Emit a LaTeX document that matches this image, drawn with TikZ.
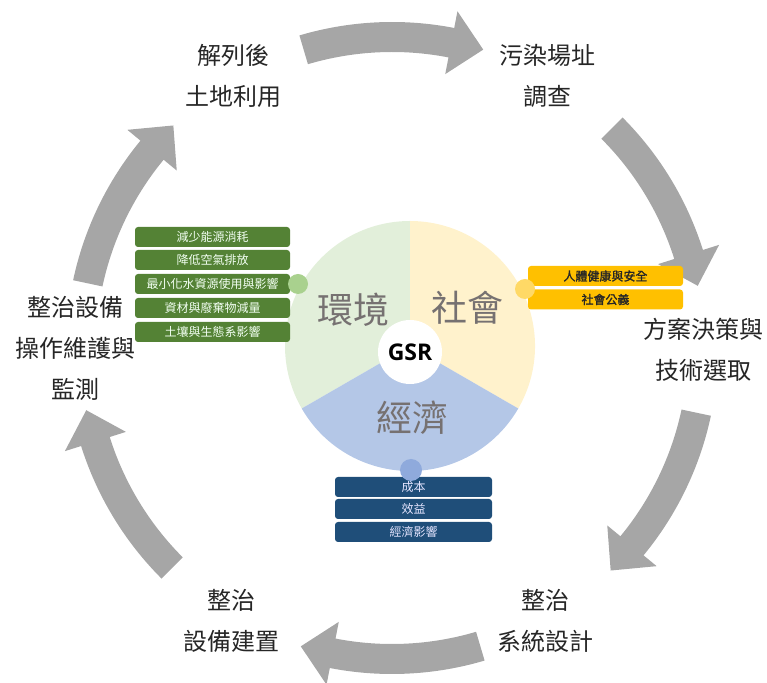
\documentclass[tikz,border=0pt]{standalone}
\usepackage{fontspec}
\setmainfont{Noto Sans CJK TC}[AutoFakeBold=1.5]
\newfontfamily\gsrfont{Open Sans}
\definecolor{arrowgray}{HTML}{A6A6A6}
\definecolor{envgreen}{HTML}{E2EFDA}
\definecolor{socyellow}{HTML}{FFF2CC}
\definecolor{ecoblue}{HTML}{B4C7E7}
\definecolor{wordgray}{HTML}{767171}
\definecolor{boxgreen}{HTML}{548235}
\definecolor{dotgreen}{HTML}{A9D18E}
\definecolor{boxyellow}{HTML}{FFC000}
\definecolor{dotyellow}{HTML}{FFD966}
\definecolor{boxblue}{HTML}{1F4E79}
\definecolor{dotblue}{HTML}{8FAADC}
\tikzset{
  cyclelabel/.style={align=center, inner sep=0pt, text=black!85, font=\fontsize{24}{41}\selectfont},
  bigword/.style={inner sep=0pt, text=wordgray, font=\fontsize{36}{40}\selectfont},
  itembox/.style={rounded corners=3pt, minimum width=155pt, minimum height=20pt, inner sep=0pt, font=\fontsize{12}{14}\selectfont},
  gbox/.style={itembox, fill=boxgreen, text=white!95!green},
  ybox/.style={itembox, fill=boxyellow, text=black!85, font=\fontsize{12}{14}\selectfont\bfseries},
  bbox/.style={itembox, fill=boxblue, text=blue!10!white, minimum width=157pt},
  dot/.style={circle, inner sep=0pt, minimum size=#1},
}
\begin{document}
\begin{tikzpicture}[x=1pt,y=1pt]
\useasboundingbox (0,0) rectangle (767,682);
% cycle arrows
\begin{scope}[shift={(392,334)}]
\foreach \m in {90,28.5,-28.5,-90,-151.5,151.5}{
  \pgfmathsetmacro\a{\m+16.5}
  \pgfmathsetmacro\b{\m-17}
  \pgfmathsetmacro\h{\m-11}
  \fill[arrowgray] (\a:326pt) arc[start angle=\a,end angle=\h,radius=326pt]
    -- (\h:343pt) -- (\b:312pt) -- (\h:279pt) -- (\h:296pt)
    arc[start angle=\h,end angle=\a,radius=296pt] -- cycle;
}
\end{scope}
% cycle labels
\node[cyclelabel] (land) at (233,606) {解列後\\土地利用};
\node[cyclelabel] (survey) at (547,606) {污染場址\\調查};
\node[cyclelabel] (decide) at (703,332) {方案決策與\\技術選取};
\node[cyclelabel] (design) at (545,61) {整治\\系統設計};
\node[cyclelabel] (build) at (231,61) {整治\\設備建置};
\node[cyclelabel] (operate) at (75,334) {整治設備\\操作維護與\\監測};
% pie
\begin{scope}[shift={(410,336)}]
\fill[envgreen] (0,0) -- (90:125pt) arc[start angle=90,end angle=210,radius=125pt] -- cycle;
\fill[socyellow] (0,0) -- (-30:125pt) arc[start angle=-30,end angle=90,radius=125pt] -- cycle;
\fill[ecoblue] (0,0) -- (210:125pt) arc[start angle=210,end angle=330,radius=125pt] -- cycle;
\end{scope}
\node[circle, fill=white, minimum size=64pt, inner sep=0pt] (gsr) at (410,330) {\gsrfont\bfseries\fontsize{23}{26}\selectfont GSR};
\node[bigword] (env) at (353,372) {環境};
\node[bigword] (soc) at (467,374) {社會};
\node[bigword] (eco) at (412,264) {經濟};
% green boxes
\node[gbox] (g1) at (212.5,445) {減少能源消耗};
\node[gbox] (g2) at (212.5,422) {降低空氣排放};
\node[gbox] (g3) at (212.5,398) {最小化水資源使用與影響};
\node[gbox] (g4) at (212.5,374) {資材與廢棄物減量};
\node[gbox] (g5) at (212.5,350) {土壤與生態系影響};
% yellow boxes
\node[ybox] (y1) at (605.5,406) {人體健康與安全};
\node[ybox] (y2) at (605.5,382.5) {社會公義};
% blue boxes
\node[bbox] (b1) at (413.5,195) {成本};
\node[bbox] (b2) at (413.5,173) {效益};
\node[bbox] (b3) at (413.5,150) {經濟影響};
% dots
\node[dot=20pt, fill=dotgreen] (gd) at (298,398) {};
\node[dot=20pt, fill=dotyellow] (yd) at (525,393) {};
\node[dot=22pt, fill=dotblue] (bd) at (411,212) {};
\end{tikzpicture}
\end{document}
